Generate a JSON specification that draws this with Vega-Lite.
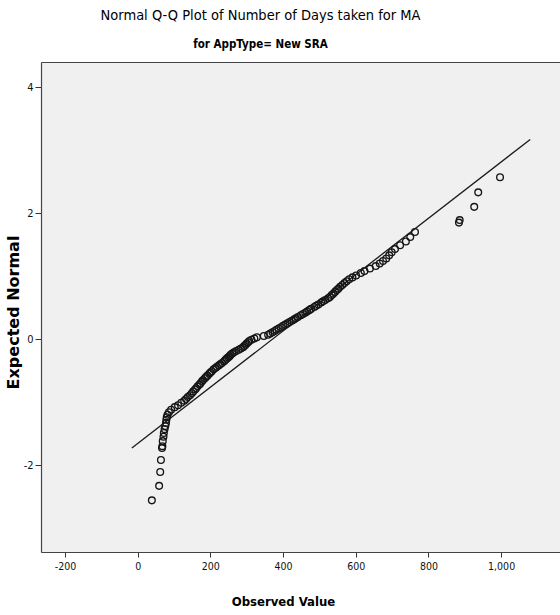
{
  "$schema": "https://vega.github.io/schema/vega-lite/v6.json",
  "width": 519,
  "height": 490,
  "autosize": {"type": "none"},
  "padding": {"left": 41, "top": 62, "right": 0, "bottom": 63},
  "background": "white",
  "config": {"view": {"fill": "#f0f0f0", "stroke": null}, "font": "DejaVu Sans Condensed, Liberation Sans, sans-serif"},
  "title": {
    "text": "Normal Q-Q Plot of Number of Days taken for MA",
    "subtitle": "for AppType= New SRA",
    "anchor": "middle",
    "frame": "group",
    "dx": -40,
    "font": "DejaVu Sans Condensed, Liberation Sans, sans-serif",
    "fontSize": 14.5,
    "fontWeight": "normal",
    "color": "#000",
    "subtitleFont": "DejaVu Sans Condensed, Liberation Sans, sans-serif",
    "subtitleFontSize": 11.5,
    "subtitleFontWeight": "bold",
    "subtitleColor": "#000",
    "subtitlePadding": 15,
    "offset": 11
  },
  "layer": [
    {
      "data": {"values": [{"observed": -16, "expected": -1.73}, {"observed": 1080, "expected": 3.17}]},
      "mark": {"type": "line", "color": "#1a1a1a", "strokeWidth": 1.3, "clip": true},
      "encoding": {
        "x": {"field": "observed", "type": "quantitative", "scale": {"domain": [-266, 1162], "nice": false, "zero": false},
          "axis": {"orient": "top", "labels": false, "ticks": false, "domain": true, "domainColor": "#444", "domainWidth": 1.2, "title": null, "grid": false}},
        "y": {"field": "expected", "type": "quantitative", "scale": {"domain": [-3.38, 4.4], "nice": false, "zero": false},
          "axis": {"values": [-2, 0, 2, 4], "labelExpr": "datum.value < 0 ? '-' + format(-datum.value, 'd') : format(datum.value, 'd')", "grid": false, "domainColor": "#444", "domainWidth": 1.2, "tickColor": "#333", "tickSize": 6, "labelPadding": 2, "labelFont": "DejaVu Sans Condensed, Liberation Sans, sans-serif", "labelFontSize": 11, "labelColor": "#111",
            "title": "Expected Normal", "titleFont": "DejaVu Sans", "titleFontWeight": "bold", "titleFontSize": 16, "titleColor": "#000", "titleX": -28, "titleY": 250, "titleAngle": -90, "titleAlign": "center", "titleBaseline": "middle"}}
      }
    },
    {
      "data": {"values": [
        {"observed": 39, "expected": -2.56},
        {"observed": 59, "expected": -2.33},
        {"observed": 62, "expected": -2.11},
        {"observed": 64, "expected": -1.92},
        {"observed": 67, "expected": -1.73},
        {"observed": 68, "expected": -1.70},
        {"observed": 69, "expected": -1.62},
        {"observed": 71, "expected": -1.55},
        {"observed": 72, "expected": -1.49},
        {"observed": 74, "expected": -1.43},
        {"observed": 76, "expected": -1.38},
        {"observed": 78, "expected": -1.33},
        {"observed": 79, "expected": -1.28},
        {"observed": 80, "expected": -1.24},
        {"observed": 82, "expected": -1.20},
        {"observed": 86, "expected": -1.16},
        {"observed": 92, "expected": -1.12},
        {"observed": 102, "expected": -1.08},
        {"observed": 111, "expected": -1.05},
        {"observed": 120, "expected": -1.01},
        {"observed": 128, "expected": -0.98},
        {"observed": 133, "expected": -0.95},
        {"observed": 138, "expected": -0.92},
        {"observed": 144, "expected": -0.89},
        {"observed": 149, "expected": -0.86},
        {"observed": 153, "expected": -0.83},
        {"observed": 158, "expected": -0.80},
        {"observed": 161, "expected": -0.78},
        {"observed": 165, "expected": -0.75},
        {"observed": 170, "expected": -0.72},
        {"observed": 173, "expected": -0.70},
        {"observed": 177, "expected": -0.67},
        {"observed": 180, "expected": -0.65},
        {"observed": 185, "expected": -0.62},
        {"observed": 188, "expected": -0.60},
        {"observed": 192, "expected": -0.58},
        {"observed": 197, "expected": -0.55},
        {"observed": 200, "expected": -0.53},
        {"observed": 204, "expected": -0.51},
        {"observed": 209, "expected": -0.48},
        {"observed": 214, "expected": -0.46},
        {"observed": 218, "expected": -0.44},
        {"observed": 223, "expected": -0.42},
        {"observed": 227, "expected": -0.40},
        {"observed": 232, "expected": -0.38},
        {"observed": 238, "expected": -0.35},
        {"observed": 241, "expected": -0.33},
        {"observed": 245, "expected": -0.31},
        {"observed": 249, "expected": -0.29},
        {"observed": 253, "expected": -0.27},
        {"observed": 256, "expected": -0.25},
        {"observed": 260, "expected": -0.23},
        {"observed": 265, "expected": -0.21},
        {"observed": 271, "expected": -0.19},
        {"observed": 278, "expected": -0.17},
        {"observed": 284, "expected": -0.15},
        {"observed": 290, "expected": -0.13},
        {"observed": 293, "expected": -0.11},
        {"observed": 297, "expected": -0.09},
        {"observed": 300, "expected": -0.07},
        {"observed": 304, "expected": -0.05},
        {"observed": 307, "expected": -0.03},
        {"observed": 313, "expected": -0.01},
        {"observed": 321, "expected": 0.01},
        {"observed": 328, "expected": 0.03},
        {"observed": 347, "expected": 0.05},
        {"observed": 359, "expected": 0.07},
        {"observed": 365, "expected": 0.09},
        {"observed": 371, "expected": 0.11},
        {"observed": 377, "expected": 0.13},
        {"observed": 382, "expected": 0.15},
        {"observed": 388, "expected": 0.17},
        {"observed": 394, "expected": 0.19},
        {"observed": 400, "expected": 0.21},
        {"observed": 406, "expected": 0.23},
        {"observed": 412, "expected": 0.25},
        {"observed": 418, "expected": 0.27},
        {"observed": 424, "expected": 0.29},
        {"observed": 430, "expected": 0.31},
        {"observed": 435, "expected": 0.33},
        {"observed": 441, "expected": 0.35},
        {"observed": 449, "expected": 0.38},
        {"observed": 455, "expected": 0.40},
        {"observed": 461, "expected": 0.42},
        {"observed": 466, "expected": 0.44},
        {"observed": 472, "expected": 0.46},
        {"observed": 477, "expected": 0.48},
        {"observed": 486, "expected": 0.51},
        {"observed": 491, "expected": 0.53},
        {"observed": 497, "expected": 0.55},
        {"observed": 505, "expected": 0.58},
        {"observed": 510, "expected": 0.60},
        {"observed": 516, "expected": 0.62},
        {"observed": 524, "expected": 0.65},
        {"observed": 529, "expected": 0.67},
        {"observed": 534, "expected": 0.70},
        {"observed": 538, "expected": 0.72},
        {"observed": 543, "expected": 0.75},
        {"observed": 548, "expected": 0.78},
        {"observed": 552, "expected": 0.80},
        {"observed": 557, "expected": 0.83},
        {"observed": 563, "expected": 0.86},
        {"observed": 569, "expected": 0.89},
        {"observed": 575, "expected": 0.92},
        {"observed": 582, "expected": 0.95},
        {"observed": 591, "expected": 0.98},
        {"observed": 601, "expected": 1.01},
        {"observed": 614, "expected": 1.05},
        {"observed": 624, "expected": 1.08},
        {"observed": 639, "expected": 1.12},
        {"observed": 655, "expected": 1.16},
        {"observed": 666, "expected": 1.20},
        {"observed": 675, "expected": 1.24},
        {"observed": 684, "expected": 1.28},
        {"observed": 692, "expected": 1.33},
        {"observed": 699, "expected": 1.38},
        {"observed": 708, "expected": 1.43},
        {"observed": 722, "expected": 1.49},
        {"observed": 738, "expected": 1.55},
        {"observed": 750, "expected": 1.62},
        {"observed": 763, "expected": 1.70},
        {"observed": 884, "expected": 1.85},
        {"observed": 886, "expected": 1.89},
        {"observed": 926, "expected": 2.10},
        {"observed": 937, "expected": 2.33},
        {"observed": 997, "expected": 2.57}
      ]},
      "mark": {"type": "point", "shape": "circle", "filled": false, "size": 45, "color": "#151515", "strokeWidth": 1.35, "opacity": 1},
      "encoding": {
        "x": {"field": "observed", "type": "quantitative",
          "axis": {"orient": "bottom", "values": [-200, 0, 200, 400, 600, 800, 1000], "labelExpr": "datum.value < 0 ? '-' + format(-datum.value, ',d') : format(datum.value, ',d')", "grid": false, "domainColor": "#444", "domainWidth": 1.2, "tickColor": "#333", "tickSize": 5, "labelPadding": 4, "labelFont": "DejaVu Sans Condensed, Liberation Sans, sans-serif", "labelFontSize": 10.5, "labelColor": "#111",
            "title": "Observed Value", "titleFont": "DejaVu Sans Condensed, Liberation Sans, sans-serif", "titleFontWeight": "bold", "titleFontSize": 13, "titleColor": "#000", "titleX": 242, "titleY": 49, "titleAlign": "center", "titleBaseline": "middle"}},
        "y": {"field": "expected", "type": "quantitative"}
      }
    }
  ],
  "resolve": {"axis": {"x": "independent"}}
}
